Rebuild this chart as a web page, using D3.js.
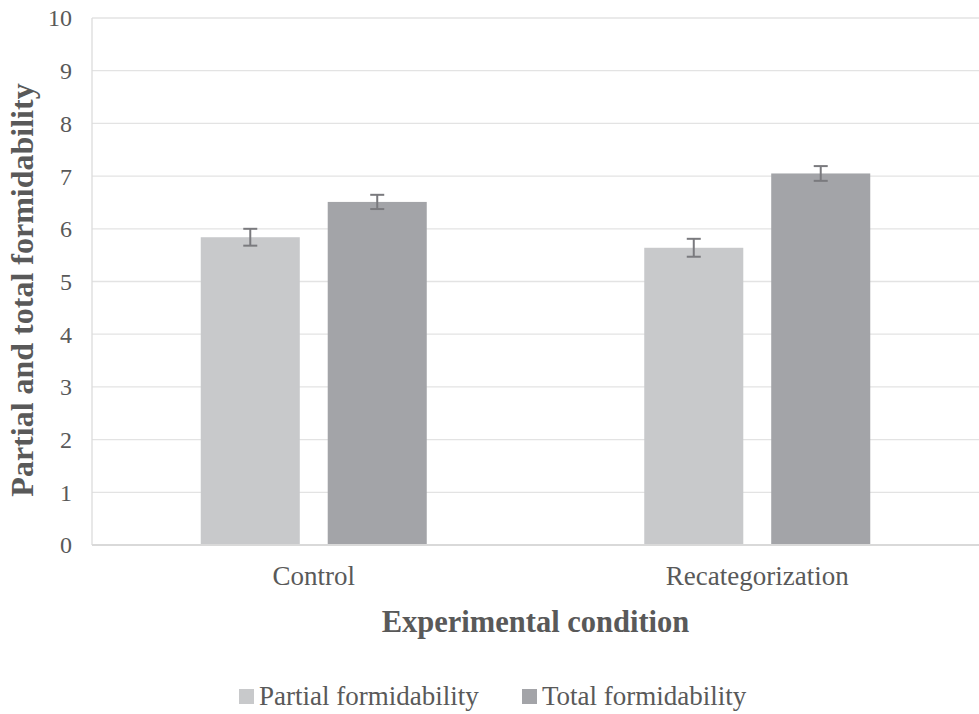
<!DOCTYPE html>
<html><head><meta charset="utf-8">
<script src="https://cdn.jsdelivr.net/npm/d3@7"></script>
<style>body{margin:0;background:#fff}svg{display:block}text{font-family:"Liberation Serif","Times New Roman",serif;fill:#595959}</style>
</head><body>
<svg id="c" width="979" height="714"></svg>
<script>
const categories = ["Control", "Recategorization"];
const seriesNames = ["Partial formidability", "Total formidability"];
const partialValues = [5.84, 5.64];
const totalValues = [6.51, 7.05];
const partialErrors = [0.16, 0.17];
const totalErrors = [0.135, 0.14];
const yTicks = [0,1,2,3,4,5,6,7,8,9,10];
const colors = ["#c8c9cb", "#a3a4a8"];

const svg = d3.select("#c");
const m = {left: 92, right: 979, top: 18, bottom: 545};
const x = d3.scaleBand().domain(categories).range([m.left, m.right]);
const x1 = d3.scaleBand().domain(seriesNames).range([0, 226]).paddingInner(0.22);
const y = d3.scaleLinear().domain([0, 10]).range([m.bottom, m.top]);

// gridlines
svg.append("g").selectAll("line").data(yTicks.filter(d => d > 0)).join("line")
  .attr("x1", m.left).attr("x2", m.right).attr("y1", d => y(d)).attr("y2", d => y(d))
  .attr("stroke", "#e3e3e3").attr("stroke-width", 1.3);
// left axis line
svg.append("line").attr("x1", m.left).attr("x2", m.left).attr("y1", m.top).attr("y2", m.bottom)
  .attr("stroke", "#dcdcdc").attr("stroke-width", 1.3);

const data = categories.map((c, i) => ({c, vals: [
  {s: seriesNames[0], v: partialValues[i], e: partialErrors[i]},
  {s: seriesNames[1], v: totalValues[i], e: totalErrors[i]}]}));

const g = svg.append("g").selectAll("g").data(data).join("g")
  .attr("transform", d => `translate(${x(d.c) + (x.bandwidth() - 226) / 2},0)`);
g.selectAll("rect").data(d => d.vals).join("rect")
  .attr("x", d => x1(d.s)).attr("width", x1.bandwidth())
  .attr("y", d => y(d.v)).attr("height", d => y(0) - y(d.v))
  .attr("fill", (d, i) => colors[i]);
const eb = g.selectAll("g.e").data(d => d.vals).join("g").attr("class", "e")
  .attr("stroke", "#7a7a7e").attr("stroke-width", 2);
eb.append("line").attr("x1", d => x1(d.s) + x1.bandwidth() / 2).attr("x2", d => x1(d.s) + x1.bandwidth() / 2)
  .attr("y1", d => y(d.v + d.e)).attr("y2", d => y(d.v - d.e));
eb.append("line").attr("x1", d => x1(d.s) + x1.bandwidth() / 2 - 7).attr("x2", d => x1(d.s) + x1.bandwidth() / 2 + 7)
  .attr("y1", d => y(d.v + d.e)).attr("y2", d => y(d.v + d.e));
eb.append("line").attr("x1", d => x1(d.s) + x1.bandwidth() / 2 - 7).attr("x2", d => x1(d.s) + x1.bandwidth() / 2 + 7)
  .attr("y1", d => y(d.v - d.e)).attr("y2", d => y(d.v - d.e));

// bottom axis line
svg.append("line").attr("x1", m.left).attr("x2", m.right).attr("y1", m.bottom).attr("y2", m.bottom)
  .attr("stroke", "#d9d9d9").attr("stroke-width", 2);

// y tick labels
svg.append("g").selectAll("text").data(yTicks).join("text")
  .attr("x", 72).attr("y", d => y(d)).attr("dy", "0.35em").attr("text-anchor", "end")
  .style("font-size", "24px").text(d => d);
// x tick labels
svg.append("g").selectAll("text").data(categories).join("text")
  .attr("x", d => x(d) + x.bandwidth() / 2).attr("y", 585).attr("text-anchor", "middle")
  .style("font-size", "27px").text(d => d);

// axis titles
svg.append("text").attr("x", (m.left + m.right) / 2).attr("y", 632).attr("text-anchor", "middle")
  .style("font-size", "30.5px").style("font-weight", "bold").text("Experimental condition");
svg.append("text").attr("transform", `translate(33,290) rotate(-90)`)
  .attr("text-anchor", "middle").style("font-size", "32px").style("font-weight", "bold")
  .text("Partial and total formidability");

// legend
const legX = [239, 522];
const lg = svg.append("g").selectAll("g").data(seriesNames).join("g")
  .attr("transform", (d, i) => `translate(${legX[i]},705)`);
lg.append("rect").attr("x", 0).attr("y", -16).attr("width", 15).attr("height", 15).attr("fill", (d, i) => colors[i]);
lg.append("text").attr("x", 20).attr("y", 0).style("font-size", "27px").text(d => d);
</script>
</body></html>
